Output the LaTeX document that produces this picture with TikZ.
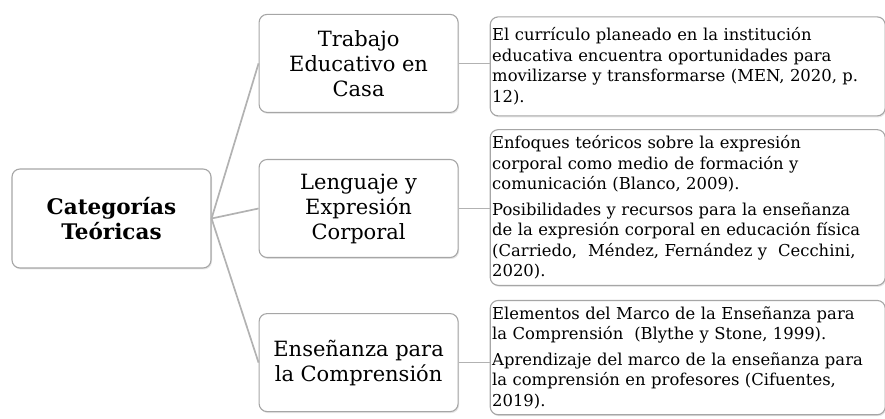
\documentclass[tikz,border=0pt]{standalone}
\usepackage{fontspec}
\setmainfont{DejaVu Serif}
\usetikzlibrary{positioning,shadows}

\begin{document}
\begin{tikzpicture}[
    x=1pt, y=1pt,
    catbox/.style={rectangle, draw=gray!70, line width=1.1pt, rounded corners=8pt, fill=white,
        drop shadow={opacity=0.2, shadow xshift=1pt, shadow yshift=-1.5pt},
        minimum width=199pt, minimum height=99pt, align=center},
    subbox/.style={catbox, font=\fontsize{21}{25}\selectfont, minimum height=98pt},
    refbox/.style={catbox, text width=391pt, minimum width=395pt, align=left,
        inner xsep=2pt, inner ysep=6pt, font=\fontsize{16.4}{20.5}\selectfont},
    link/.style={draw=gray!60, line width=1.7pt}
]
    \useasboundingbox (0,0) rectangle (885,-419);

    \node[catbox, font=\bfseries\fontsize{21.5}{25}\selectfont] (root) at (111.5,-218.5) {Categorías\\Teóricas};

    \node[subbox, right=47pt of root, yshift=10pt] (lec) {Lenguaje y\\Expresión\\Corporal};
    \node[subbox, above=46pt of lec] (tec) {Trabajo\\Educativo en\\Casa};
    \node[subbox, below=55pt of lec] (epc) {Enseñanza para\\la Comprensión};

    \node[refbox, right=31pt of tec, yshift=-3pt] (rtec) {El currículo planeado en la institución\\educativa encuentra oportunidades para\\movilizarse y transformarse (MEN, 2020, p.\\12).};
    \node[refbox, right=31pt of lec, yshift=1pt] (rlec) {Enfoques teóricos sobre la expresión\\corporal como medio de formación y\\comunicación (Blanco, 2009).\\[5pt]Posibilidades y recursos para la enseñanza\\de la expresión corporal en educación física\\(Carriedo,\ \ Méndez, Fernández y\ \ Cecchini,\\2020).};
    \node[refbox, right=31pt of epc, yshift=5pt] (repc) {Elementos del Marco de la Enseñanza para\\la Comprensión\ \ (Blythe y Stone, 1999).\\[5pt]Aprendizaje del marco de la enseñanza para\\la comprensión en profesores (Cifuentes,\\2019).};

    \draw[link] (root.east) -- (tec.west);
    \draw[link] (root.east) -- (lec.west);
    \draw[link] (root.east) -- (epc.west);

    \draw[link] (tec.east) -- (rtec.west |- tec.east);
    \draw[link] (lec.east) -- (rlec.west |- lec.east);
    \draw[link] (epc.east) -- (repc.west |- epc.east);
\end{tikzpicture}
\end{document}
